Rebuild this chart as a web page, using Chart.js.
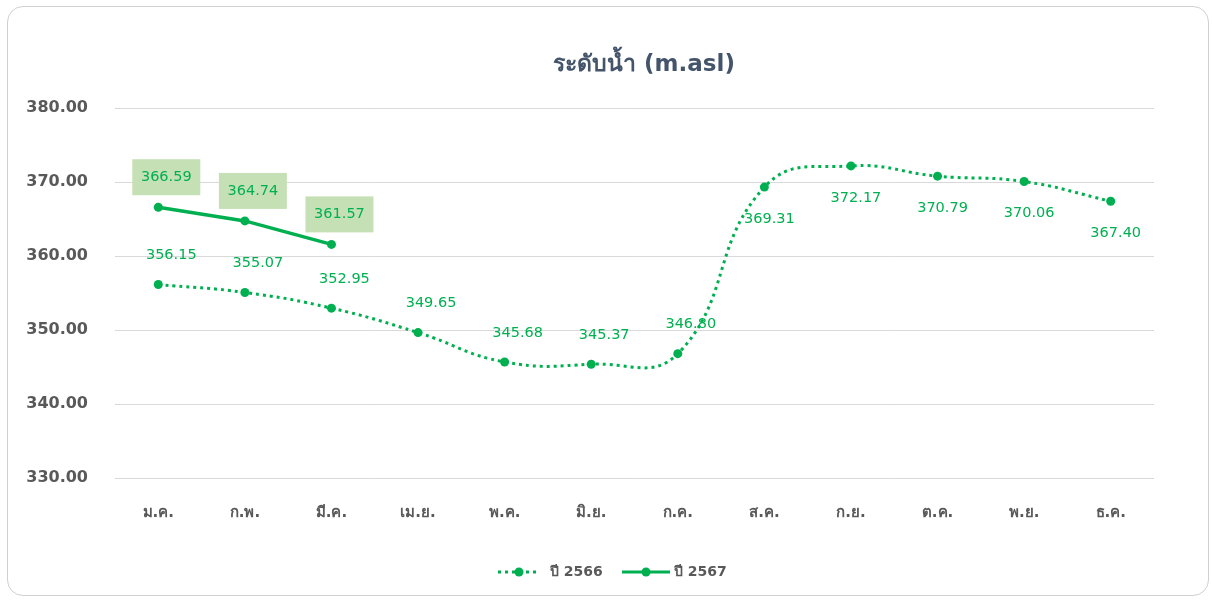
<!DOCTYPE html>
<html><head><meta charset="utf-8">
<script src="https://cdn.jsdelivr.net/npm/chart.js@4.4.1/dist/chart.umd.min.js"></script>
<style>
html,body{margin:0;padding:0;background:#fff;width:1212px;height:600px;overflow:hidden;}
#card{position:absolute;left:7px;top:6px;width:1202px;height:590px;border:1.5px solid #d0d0d0;border-radius:16px;box-sizing:border-box;}
#wrap{position:absolute;left:0;top:0;width:1212px;height:600px;}
</style></head>
<body>
<div id="card"></div>
<div id="wrap"><canvas id="c" width="1212" height="600"></canvas></div>
<script>
const titleText = 'ระดับน้ำ (m.asl)';
const months = ['ม.ค.','ก.พ.','มี.ค.','เม.ย.','พ.ค.','มิ.ย.','ก.ค.','ส.ค.','ก.ย.','ต.ค.','พ.ย.','ธ.ค.'];
const level2566 = [356.15,355.07,352.95,349.65,345.68,345.37,346.80,369.31,372.17,370.79,370.06,367.40];
const level2567 = [366.59,364.74,361.57];
const seriesNames = ['ปี 2566','ปี 2567'];
const yMin = 330, yMax = 380, yStep = 10;

const GREEN = '#00B050';
const FONT = "'DejaVu Sans', 'Noto Sans', sans-serif";

const overlay = {
  id:'overlay',
  afterDatasetsDraw(chart){
    const ctx = chart.ctx;
    ctx.save();
    // title
    ctx.fillStyle = '#44546A';
    ctx.font = "bold 23px " + FONT;
    ctx.textAlign = 'center'; ctx.textBaseline = 'middle';
    ctx.fillText(titleText, 644, 65);
    // data labels 2566
    ctx.font = "14.5px " + FONT;
    const m0 = chart.getDatasetMeta(0);
    m0.data.forEach((p,i)=>{
      const v = level2566[i];
      ctx.fillStyle = GREEN;
      if (i < 7) ctx.fillText(v.toFixed(2), p.x + 13, p.y - 29);
      else ctx.fillText(v.toFixed(2), p.x + 5, p.y + 32);
    });
    // data labels 2567 with boxes
    const m1 = chart.getDatasetMeta(1);
    m1.data.forEach((p,i)=>{
      const v = level2567[i];
      const cx = p.x + 8, cy = p.y - 30;
      ctx.fillStyle = '#C5E0B4';
      ctx.fillRect(cx - 34, cy - 18, 68, 36);
      ctx.fillStyle = GREEN;
      ctx.fillText(v.toFixed(2), cx, cy);
    });
    // legend
    const ly = 572;
    const items = [
      {x0:498, x1:540, dash:[3,4], tx:550, name:seriesNames[0]},
      {x0:622, x1:670, dash:[], tx:674, name:seriesNames[1]}
    ];
    items.forEach(it=>{
      ctx.strokeStyle = GREEN; ctx.lineWidth = 3; ctx.setLineDash(it.dash);
      ctx.beginPath(); ctx.moveTo(it.x0, ly); ctx.lineTo(it.x1, ly); ctx.stroke();
      ctx.setLineDash([]);
      ctx.fillStyle = GREEN;
      ctx.beginPath(); ctx.arc((it.x0+it.x1)/2, ly, 4.5, 0, Math.PI*2); ctx.fill();
      ctx.fillStyle = '#595959';
      ctx.font = "bold 14px " + FONT;
      ctx.textAlign = 'left';
      ctx.fillText(it.name, it.tx, ly);
    });
    ctx.restore();
  }
};

new Chart(document.getElementById('c'), {
  type:'line',
  data:{
    labels: months,
    datasets:[
      {label:seriesNames[0], data:level2566, borderColor:GREEN, backgroundColor:GREEN,
       borderWidth:3, borderDash:[3,4], tension:0.45, pointRadius:4.5, pointHoverRadius:4.5,
       pointBorderWidth:0, fill:false},
      {label:seriesNames[1], data:level2567, borderColor:GREEN, backgroundColor:GREEN,
       borderWidth:3.5, tension:0, pointRadius:4.5, pointHoverRadius:4.5, pointBorderWidth:0, fill:false}
    ]
  },
  options:{
    responsive:false, animation:false,
    layout:{padding:{left:0, right:58, top:108, bottom:72}},
    plugins:{legend:{display:false}, title:{display:false}, tooltip:{enabled:false}},
    scales:{
      x:{
        offset:true,
        grid:{display:false, drawTicks:false},
        border:{display:false},
        ticks:{color:'#595959', font:{family:FONT, size:15, weight:'bold'}, padding:26, maxRotation:0},
        afterFit(s){ s.height = 50; }
      },
      y:{
        min:yMin, max:yMax,
        grid:{color:'#d9d9d9', lineWidth:1, drawTicks:false},
        border:{display:false},
        ticks:{stepSize:yStep, color:'#595959', font:{family:FONT, size:16, weight:'bold'}, padding:27,
               callback:(v)=>Number(v).toFixed(2)},
        afterFit(s){ s.width = 115; }
      }
    }
  },
  plugins:[overlay]
});
</script>
</body></html>
